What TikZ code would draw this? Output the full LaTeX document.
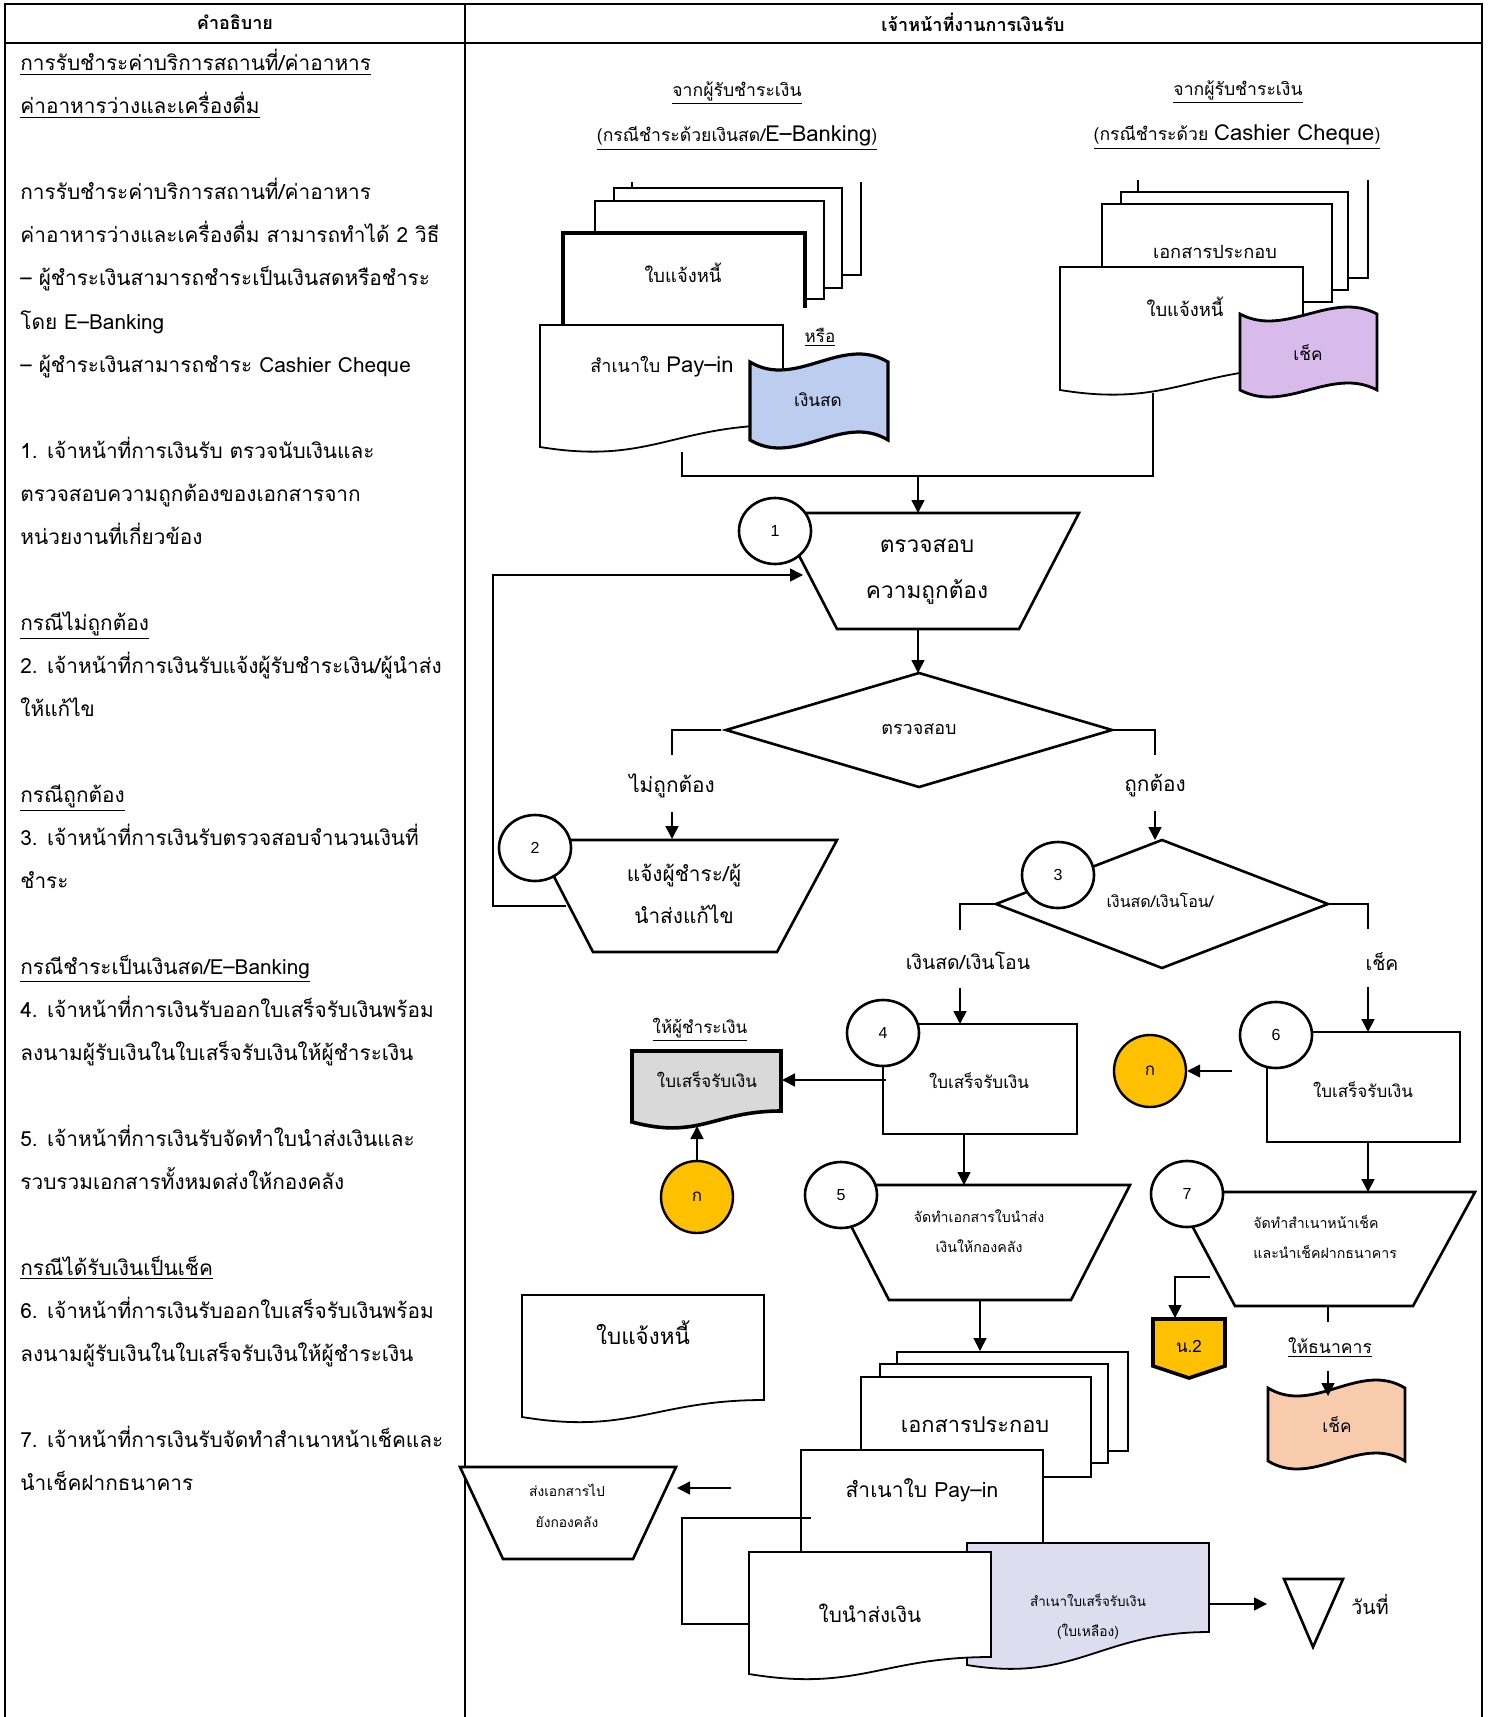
\documentclass[tikz,border=0pt]{standalone}
\usepackage{fontspec}
\setmainfont[Script=Thai]{Loma}
\newfontfamily\numfont{Liberation Sans}
\usetikzlibrary{arrows.meta,shapes.geometric}
\definecolor{cashblue}{RGB}{189,205,240}
\definecolor{chqpurple}{RGB}{216,187,235}
\definecolor{ygold}{RGB}{255,192,0}
\definecolor{docgray}{RGB}{217,217,217}
\definecolor{peach}{RGB}{248,203,173}
\definecolor{lav}{RGB}{221,221,240}
\newcommand\fs[1]{\fontsize{#1}{#1}\selectfont}
% document shape: [style]{x1}{y1}{x2}{yRight}{yLeft}
\newcommand\docshape[6][]{\draw[dc,#1] (#2,#3) -- (#4,#3) -- (#4,#5) .. controls ({#2+0.55*(#4-#2)},#5) and ({#2+0.45*(#4-#2)},{#6+18}) .. (#2,#6) -- cycle;}
% tape shape: [style]{x1}{x2}{ytop}{ybottom}{amplitude}
\newcommand\tapeshape[6][]{\draw[dc,#1] (#2,#4) .. controls ({#2+(#3-#2)/3},{#4+3.46*#6}) and ({#2+2*(#3-#2)/3},{#4-3.46*#6}) .. (#3,#4) -- (#3,#5) .. controls ({#2+2*(#3-#2)/3},{#5-3.46*#6}) and ({#2+(#3-#2)/3},{#5+3.46*#6}) .. (#2,#5) -- cycle;}
\tikzset{
  bd/.style={line width=1.2pt},
  ln/.style={line width=0.8pt},
  arr/.style={line width=0.8pt,-{Triangle[length=6.5pt,width=6.5pt]}},
  shp/.style={draw,line width=1.3pt,fill=white},
  rct/.style={draw,line width=0.7pt,fill=white},
  dc/.style={draw,line width=0.9pt,fill=white},
  num/.style={ellipse,draw,line width=1.3pt,fill=white,minimum width=36pt,minimum height=33pt,inner sep=0pt,font=\numfont\fs{8}},
  ycirc/.style={circle,draw,line width=1.2pt,fill=ygold,minimum size=36pt,inner sep=0pt,font=\fs{8.5}},
  lt/.style={anchor=base west,inner sep=0pt,font=\fs{10.4}},
  tx/.style={inner sep=0pt},
}
\begin{document}
\begin{tikzpicture}[x=0.5pt,y=-0.5pt]
\useasboundingbox (0,0) rectangle (1488,1717);
% ---------- table ----------
\draw[bd] (5,1717) -- (5,4) -- (1482,4) -- (1482,1717);
\draw[bd] (5,43) -- (1482,43);
\draw[bd] (465,4) -- (465,1717);
\node[tx,font=\bfseries\fs{9}] (hd1) at (235,22) {คำอธิบาย};
\node[tx,font=\bfseries\fs{9}] (hd2) at (973,22) {เจ้าหน้าที่งานการเงินรับ};
% ---------- left column ----------
\node[lt] (l1) at (20,71) {\underline{การรับชำระค่าบริการสถานที่/ค่าอาหาร}};
\node[lt] (l2) at (20,114) {\underline{ค่าอาหารว่างและเครื่องดื่ม}};
\node[lt] (l3) at (20,200) {การรับชำระค่าบริการสถานที่/ค่าอาหาร};
\node[lt] (l4) at (20,243) {ค่าอาหารว่างและเครื่องดื่ม สามารถทำได้ 2 วิธี};
\node[lt] (l5) at (20,286) {– ผู้ชำระเงินสามารถชำระเป็นเงินสดหรือชำระ};
\node[lt] (l6) at (20,329) {โดย E–Banking};
\node[lt] (l7) at (20,372) {– ผู้ชำระเงินสามารถชำระ Cashier Cheque};
\node[lt] (l8) at (20,458) {1. เจ้าหน้าที่การเงินรับ ตรวจนับเงินและ};
\node[lt] (l9) at (20,501) {ตรวจสอบความถูกต้องของเอกสารจาก};
\node[lt] (l10) at (20,544) {หน่วยงานที่เกี่ยวข้อง};
\node[lt] (l11) at (20,630) {\underline{กรณีไม่ถูกต้อง}};
\node[lt] (l12) at (20,673) {2. เจ้าหน้าที่การเงินรับแจ้งผู้รับชำระเงิน/ผู้นำส่ง};
\node[lt] (l13) at (20,716) {ให้แก้ไข};
\node[lt] (l14) at (20,802) {\underline{กรณีถูกต้อง}};
\node[lt] (l15) at (20,845) {3. เจ้าหน้าที่การเงินรับตรวจสอบจำนวนเงินที่};
\node[lt] (l16) at (20,888) {ชำระ};
\node[lt] (l17) at (20,974) {\underline{กรณีชำระเป็นเงินสด/E–Banking}};
\node[lt] (l18) at (20,1017) {4. เจ้าหน้าที่การเงินรับออกใบเสร็จรับเงินพร้อม};
\node[lt] (l19) at (20,1060) {ลงนามผู้รับเงินในใบเสร็จรับเงินให้ผู้ชำระเงิน};
\node[lt] (l20) at (20,1146) {5. เจ้าหน้าที่การเงินรับจัดทำใบนำส่งเงินและ};
\node[lt] (l21) at (20,1189) {รวบรวมเอกสารทั้งหมดส่งให้กองคลัง};
\node[lt] (l22) at (20,1275) {\underline{กรณีได้รับเงินเป็นเช็ค}};
\node[lt] (l23) at (20,1318) {6. เจ้าหน้าที่การเงินรับออกใบเสร็จรับเงินพร้อม};
\node[lt] (l24) at (20,1361) {ลงนามผู้รับเงินในใบเสร็จรับเงินให้ผู้ชำระเงิน};
\node[lt] (l25) at (20,1447) {7. เจ้าหน้าที่การเงินรับจัดทำสำเนาหน้าเช็คและ};
\node[lt] (l26) at (20,1490) {นำเช็คฝากธนาคาร};
% ---------- top left group ----------
\node[tx,font=\fs{8.8}] (s1a) at (737,93) {\underline{จากผู้รับชำระเงิน}};
\node[tx,font=\fs{8.8}] (s1b) at (737,138) {\underline{(กรณีชำระด้วยเงินสด/{\fs{11}E–Banking})}};
\fill[white] (632,182) rectangle (861,275);
\draw[ln] (632,188) -- (632,182);
\draw[ln] (861,182) -- (861,275) -- (842,275);
\draw[dc] (614,188) rectangle (842,288);
\draw[dc] (595,201) rectangle (824,299);
\fill[white] (563,233) rectangle (805,325);
\draw[line width=1.6pt] (563,325) -- (563,233) -- (805,233) -- (805,308);
\node[tx,font=\fs{9.2}] (tinv1) at (683,273) {ใบแจ้งหนี้};
\docshape{540}{325}{783}{425}{447}
\node[tx,font=\fs{9}] (tpay1) at (662,367) {สำเนาใบ {\fs{11}Pay–in}};
\node[tx,font=\fs{8.5}] (tor) at (820,337) {\underline{หรือ}};
\tapeshape[fill=cashblue,line width=1.6pt]{750}{888}{362}{440}{8}
\node[tx,font=\fs{8.6}] (tcash) at (818,400) {เงินสด};
% ---------- top right group ----------
\node[tx,font=\fs{8.8}] (s2a) at (1238,92) {\underline{จากผู้รับชำระเงิน}};
\node[tx,font=\fs{8.8}] (s2b) at (1237,137) {\underline{(กรณีชำระด้วย {\fs{11}Cashier Cheque})}};
\fill[white] (1138,180) rectangle (1368,278);
\draw[ln] (1138,191) -- (1138,180);
\draw[ln] (1368,180) -- (1368,278) -- (1348,278);
\draw[dc] (1121,192) rectangle (1348,290);
\draw[dc] (1102,204) rectangle (1332,302);
\node[tx,font=\fs{9.1}] (tdoc2) at (1215,252) {เอกสารประกอบ};
\docshape{1060}{267}{1303}{368}{390}
\node[tx,font=\fs{9.2}] (tinv2) at (1185,307) {ใบแจ้งหนี้};
\tapeshape[fill=chqpurple,line width=1.4pt]{1240}{1377}{314}{390}{7}
\node[tx,font=\fs{8.6}] (tchq1) at (1308,353) {เช็ค};
% ---------- top connectors ----------
\coordinate (pb) at (682,452);
\coordinate (rb) at (1153,393);
\coordinate (j1) at (682,476);
\coordinate (j2) at (1153,476);
\coordinate (jm) at (918,476);
\coordinate (t1top) at (918,513);
\draw[ln] (pb) -- (j1) -- (j2) -- (rb);
\draw[arr] (jm) -- (t1top);
% ---------- step 1 ----------
\draw[shp] (777,513) -- (1079,513) -- (1019,629) -- (837,629) -- cycle;
\node[tx,font=\fs{11.3}] (t1a) at (927,546) {ตรวจสอบ};
\node[tx,font=\fs{11.3}] (t1b) at (927,592) {ความถูกต้อง};
\node[num] (c1) at (775,531) {1};
\coordinate (t1bot) at (918,629);
\coordinate (d1top) at (918,673);
\draw[arr] (t1bot) -- (d1top);
% decision
\draw[shp] (919,673) -- (1112,730) -- (919,787) -- (726,730) -- cycle;
\node[tx,font=\fs{9}] (d1t) at (919,729) {ตรวจสอบ};
\coordinate (d1l) at (721,730);
\coordinate (d1la) at (672,730);
\coordinate (d1lb) at (672,755);
\coordinate (d1lc) at (672,812);
\coordinate (t2top) at (672,839);
\draw[ln] (d1l) -- (d1la) -- (d1lb);
\node[tx,font=\fs{10.4}] (lno) at (672,786) {ไม่ถูกต้อง};
\draw[arr] (d1lc) -- (t2top);
\coordinate (d1r) at (1112,730);
\coordinate (d1ra) at (1155,730);
\coordinate (d1rb) at (1155,755);
\coordinate (d1rc) at (1155,811);
\coordinate (d3top) at (1155,840);
\draw[ln] (d1r) -- (d1ra) -- (d1rb);
\node[tx,font=\fs{10.4}] (lyes) at (1155,786) {ถูกต้อง};
\draw[arr] (d1rc) -- (d3top);
% ---------- step 2 ----------
\draw[shp] (535,840) -- (837,840) -- (777,952) -- (593,952) -- cycle;
\node[tx,font=\fs{10.4}] (t2a) at (684,876) {แจ้งผู้ชำระ/ผู้};
\node[tx,font=\fs{10.4}] (t2b) at (684,914) {นำส่งแก้ไข};
\node[num] (c2) at (535,848) {2};
\coordinate (lp1) at (566,906);
\coordinate (lp2) at (493,906);
\coordinate (lp3) at (493,575);
\coordinate (lp4) at (803,575);
\draw[arr] (lp1) -- (lp2) -- (lp3) -- (lp4);
% ---------- step 3 ----------
\draw[shp] (1162,840) -- (1328,904) -- (1162,968) -- (996,904) -- cycle;
\node[tx,font=\fs{8}] (d3t) at (1160,900) {เงินสด/เงินโอน/};
\node[num] (c3) at (1058,875) {3};
\coordinate (d3l) at (996,904);
\coordinate (d3la) at (960,904);
\coordinate (d3lb) at (960,930);
\coordinate (d3lc) at (960,988);
\coordinate (r4top) at (960,1024);
\draw[ln] (d3l) -- (d3la) -- (d3lb);
\node[tx,font=\fs{9.7}] (lcash) at (968,961) {เงินสด/เงินโอน};
\draw[arr] (d3lc) -- (r4top);
\coordinate (d3r) at (1328,904);
\coordinate (d3ra) at (1368,904);
\coordinate (d3rb) at (1368,929);
\coordinate (d3rc) at (1368,987);
\coordinate (r6top) at (1368,1032);
\draw[ln] (d3r) -- (d3ra) -- (d3rb);
\node[tx,font=\fs{9.7}] (lchq) at (1382,962) {เช็ค};
\draw[arr] (d3rc) -- (r6top);
% ---------- step 4 ----------
\draw[rct] (883,1024) rectangle (1077,1134);
\node[tx,font=\fs{8.5}] (t4) at (979,1081) {ใบเสร็จรับเงิน};
\node[num] (c4) at (883,1033) {4};
\docshape[fill=docgray,line width=1.8pt]{632}{1051}{781}{1111}{1122}
\node[tx,font=\fs{8.5}] (tg) at (707,1080) {ใบเสร็จรับเงิน};
\node[tx,font=\fs{8.5}] (tgp) at (700,1030) {\underline{ให้ผู้ชำระเงิน}};
\coordinate (r4l) at (886,1080);
\coordinate (gr) at (782,1080);
\draw[arr] (r4l) -- (gr);
\node[ycirc] (k1) at (697,1197) {ก};
\coordinate (gb) at (697,1126);
\draw[arr] (k1.north) -- (gb);
% ---------- step 6 ----------
\draw[rct] (1267,1032) rectangle (1460,1142);
\node[tx,font=\fs{8.5}] (t6) at (1363,1090) {ใบเสร็จรับเงิน};
\node[num] (c6) at (1276,1035) {6};
\node[ycirc] (k2) at (1150,1071) {ก};
\coordinate (k2s) at (1232,1071);
\draw[arr] (k2s) -- (k2.east);
% ---------- step 5 ----------
\coordinate (r4b) at (964,1134);
\coordinate (t5top) at (964,1185);
\draw[arr] (r4b) -- (t5top);
\draw[shp] (830,1185) -- (1130,1185) -- (1071,1300) -- (889,1300) -- cycle;
\node[tx,font=\fs{7.1}] (t5a) at (979,1216) {จัดทำเอกสารใบนำส่ง};
\node[tx,font=\fs{7.1}] (t5b) at (979,1246) {เงินให้กองคลัง};
\node[num] (c5) at (841,1195) {5};
\coordinate (t5b1) at (980,1300);
\coordinate (stk) at (980,1351);
\draw[arr] (t5b1) -- (stk);
% ---------- step 7 ----------
\coordinate (r6b) at (1368,1142);
\coordinate (t7top) at (1368,1192);
\draw[arr] (r6b) -- (t7top);
\draw[shp] (1174,1192) -- (1475,1192) -- (1413,1306) -- (1235,1306) -- cycle;
\node[tx,font=\fs{7.1},anchor=west] (t7a) at (1253,1222) {จัดทำสำเนาหน้าเช็ค};
\node[tx,font=\fs{7.1},anchor=west] (t7b) at (1253,1252) {และนำเช็คฝากธนาคาร};
\node[num] (c7) at (1187,1194) {7};
\coordinate (n2a) at (1210,1277);
\coordinate (n2b) at (1175,1277);
\coordinate (n2c) at (1175,1318);
\draw[arr] (n2a) -- (n2b) -- (n2c);
\draw[line width=1.8pt,fill=ygold] (1153,1319) -- (1225,1319) -- (1225,1366) -- (1189,1378) -- (1153,1366) -- cycle;
\node[tx,font=\fs{8.5}] (n2) at (1189,1346) {น.2};
\coordinate (tk1) at (1328,1306);
\coordinate (tk2) at (1328,1322);
\draw[ln] (tk1) -- (tk2);
\node[tx,font=\fs{8.8}] (tbank) at (1330,1348) {\underline{ให้ธนาคาร}};
\coordinate (bk1) at (1328,1371);
\coordinate (bk2) at (1328,1396);
\tapeshape[fill=peach,line width=1.4pt]{1268}{1405}{1388}{1461}{8}
\draw[arr] (bk1) -- (bk2);
\node[tx,font=\fs{8.6}] (tchq2) at (1337,1425) {เช็ค};
% ---------- standalone invoice ----------
\docshape{522}{1295}{764}{1400}{1417}
\node[tx,font=\fs{11.2}] (tinv3) at (643,1333) {ใบแจ้งหนี้};
% ---------- bottom stack ----------
\draw[dc] (897,1352) rectangle (1128,1451);
\draw[dc] (880,1364) rectangle (1108,1463);
\draw[dc] (861,1377) rectangle (1091,1477);
\node[tx,font=\fs{10.9}] (tdoc3) at (975,1425) {เอกสารประกอบ};
\draw[dc] (801,1450) rectangle (1043,1565);
\node[tx,font=\fs{10.5}] (tpay2) at (922,1490) {สำเนาใบ Pay–in};
\docshape[fill=lav]{967}{1543}{1209}{1632}{1665}
\node[tx,font=\fs{6.7}] (tcp1) at (1088,1600) {สำเนาใบเสร็จรับเงิน};
\node[tx,font=\fs{6.9}] (tcp2) at (1088,1632) {(ใบเหลือง)};
\docshape{749}{1552}{991}{1657}{1674}
\node[tx,font=\fs{10.3}] (tsend) at (870,1613) {ใบนำส่งเงิน};
\coordinate (bq1) at (811,1518);
\coordinate (bq2) at (682,1518);
\coordinate (bq3) at (682,1624);
\coordinate (bq4) at (749,1624);
\draw[ln] (bq1) -- (bq2) -- (bq3) -- (bq4);
\draw[shp] (460,1467) -- (676,1467) -- (633,1559) -- (503,1559) -- cycle;
\node[tx,font=\fs{6.9}] (tsd1) at (567,1490) {ส่งเอกสารไป};
\node[tx,font=\fs{6.9}] (tsd2) at (567,1522) {ยังกองคลัง};
\coordinate (sa1) at (731,1488);
\coordinate (sa2) at (677,1488);
\draw[arr] (sa1) -- (sa2);
\coordinate (lv) at (1209,1604);
\coordinate (tri) at (1267,1604);
\draw[arr] (lv) -- (tri);
\draw[line width=1.3pt] (1284,1579) -- (1343,1579) -- (1313,1647) -- cycle;
\node[tx,font=\fs{9.8}] (tdate) at (1370,1604) {วันที่};
\end{tikzpicture}
\end{document}
